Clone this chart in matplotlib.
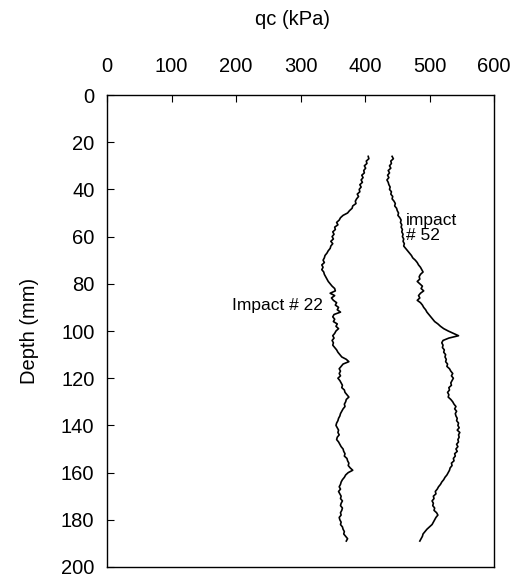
import matplotlib
matplotlib.use("Agg")
import matplotlib.pyplot as plt

plt.rcParams['font.family'] = ['Liberation Sans', 'DejaVu Sans']

# Impact # 22 profile: depth (mm) 26..189 step 1, qc (kPa)
depth_22 = list(range(26, 190))
qc_22 = [405, 406, 402, 403, 399, 401, 398, 399, 395, 397, 394, 396, 392, 394, 391, 392, 388, 390, 387, 385,
         386, 381, 380, 376, 373, 366, 362, 360, 356, 358, 353, 354, 350, 352, 349, 351, 347, 350, 347, 346,
         343, 341, 338, 337, 335, 337, 333, 335, 333, 336, 337, 339, 341, 343, 346, 349, 353, 354, 346, 353,
         348, 351, 356, 354, 359, 357, 362, 352, 350, 353, 351, 357, 355, 359, 355, 353, 350, 352, 349, 351,
         350, 353, 356, 358, 361, 364, 371, 375, 366, 363, 360, 362, 360, 362, 358, 361, 363, 365, 364, 368,
         369, 372, 375, 371, 370, 368, 369, 366, 364, 362, 361, 359, 358, 356, 355, 357, 359, 358, 360, 357,
         356, 359, 361, 363, 366, 367, 369, 368, 372, 373, 375, 374, 377, 381, 374, 370, 368, 365, 363, 362,
         360, 362, 359, 361, 363, 362, 365, 363, 362, 365, 364, 362, 363, 360, 361, 363, 362, 365, 366, 368,
         367, 370, 373, 371]

# Impact # 52 profile
depth_52 = list(range(26, 190))
qc_52 = [442, 444, 440, 441, 438, 440, 436, 438, 435, 437, 434, 436, 437, 439, 438, 441, 440, 443, 442, 445,
         447, 446, 449, 450, 452, 451, 454, 456, 455, 457, 456, 458, 457, 459, 458, 460, 459, 461, 460, 463,
         466, 469, 472, 474, 478, 481, 483, 486, 488, 490, 486, 484, 485, 481, 485, 489, 487, 491, 486, 483,
         485, 481, 486, 489, 491, 494, 496, 499, 502, 505, 508, 513, 517, 522, 529, 537, 545, 530, 521, 519,
         521, 520, 523, 522, 525, 524, 526, 525, 528, 527, 531, 533, 536, 534, 537, 535, 533, 534, 530, 531,
         528, 530, 529, 533, 536, 538, 541, 539, 542, 540, 541, 543, 542, 545, 544, 546, 543, 547, 545, 546,
         544, 545, 542, 544, 541, 543, 539, 540, 537, 538, 534, 535, 532, 531, 529, 527, 524, 522, 519, 517,
         514, 512, 509, 510, 506, 507, 504, 506, 505, 508, 507, 511, 513, 510, 508, 506, 504, 500, 496, 493,
         490, 489, 487, 485]

x_ticks = [0, 100, 200, 300, 400, 500, 600]
y_ticks = [0, 20, 40, 60, 80, 100, 120, 140, 160, 180, 200]

W, H = 511, 577
fig = plt.figure(figsize=(W / 100, H / 100), dpi=100)
ax = fig.add_axes([107 / W, 1 - 567 / H, (494 - 107) / W, (567 - 95) / H])

ax.plot(qc_22, depth_22, color='black', lw=1.2)
ax.plot(qc_52, depth_52, color='black', lw=1.2)

ax.set_xlim(0, 600)
ax.set_ylim(200, 0)
ax.set_xticks(x_ticks)
ax.set_yticks(y_ticks)
ax.xaxis.tick_top()
ax.tick_params(axis='x', which='both', top=True, bottom=False, direction='in',
               length=5, width=0.8, labelsize=14.5, pad=14)
ax.tick_params(axis='y', which='both', left=True, right=False, direction='in',
               length=5, width=0.8, labelsize=14.5, pad=9)
for s in ax.spines.values():
    s.set_linewidth(1.0)

ax.set_xlabel('qc (kPa)', fontsize=14.5)
ax.xaxis.set_label_position('top')
ax.xaxis.set_label_coords(0.48, 1.159)
ax.xaxis.label.set_verticalalignment('center')

ax.set_ylabel('Depth (mm)', fontsize=14.5)
ax.yaxis.set_label_coords(-0.20, 0.5)
ax.yaxis.label.set_verticalalignment('center')

ax.text(463, 53, 'impact', fontsize=12.5, ha='left', va='center')
ax.text(463, 59.5, '# 52', fontsize=12.5, ha='left', va='center')
ax.text(335, 89, 'Impact # 22', fontsize=12.5, ha='right', va='center')

fig.savefig('out.png', dpi=100)
